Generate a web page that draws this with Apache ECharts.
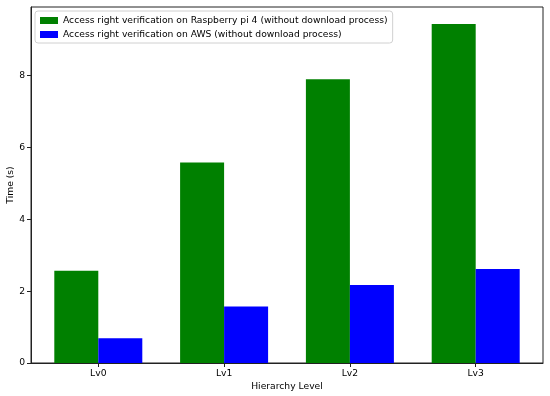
<!DOCTYPE html>
<html><head><meta charset="utf-8">
<script src="https://cdn.jsdelivr.net/npm/echarts@6/dist/echarts.min.js"></script>
<style>html,body{margin:0;padding:0;background:#fff}#c{width:550px;height:396px}</style>
</head><body><div id="c"></div>
<script>
const categories = ['Lv0', 'Lv1', 'Lv2', 'Lv3'];
const raspberry = [2.57, 5.58, 7.90, 9.44];
const aws = [0.69, 1.57, 2.17, 2.62];
const yTicks = [0, 2, 4, 6, 8];
const seriesNames = ['Access right verification on Raspberry pi 4 (without download process)', 'Access right verification on AWS (without download process)'];

const font = 'DejaVu Sans';
const fs = 9.2;
const chart = echarts.init(document.getElementById('c'), null, {renderer: 'canvas'});
const ymax = 9.44 * 1.05;
chart.setOption({
  animation: false,
  grid: {left: 31, right: 7, top: 7, bottom: 33, containLabel: false, outerBoundsMode: 'none', show: true, borderColor: '#222', borderWidth: 1},
  legend: {
    left: 35, top: 11, orient: 'vertical',
    itemWidth: 18, itemHeight: 7, itemGap: 5,
    padding: [5, 5, 4, 5],
    borderColor: '#d0d0d0', borderWidth: 1, borderRadius: 3,
    backgroundColor: 'rgba(255,255,255,0.8)',
    textStyle: {fontFamily: font, fontSize: fs, color: '#000'},
    icon: 'rect',
    data: seriesNames
  },
  xAxis: {
    type: 'value', min: -0.535, max: 3.535,
    name: 'Hierarchy Level', nameLocation: 'middle', nameGap: 19, nameMoveOverlap: false,
    nameTextStyle: {fontFamily: font, fontSize: fs, color: '#000'},
    splitLine: {show: false},
    axisLine: {show: true, onZero: false, lineStyle: {color: '#222'}},
    axisTick: {show: true, customValues: [0, 1, 2, 3], length: 4, lineStyle: {color: '#222'}},
    axisLabel: {customValues: [0, 1, 2, 3], formatter: v => categories[Math.round(v)], fontFamily: font, fontSize: fs, color: '#000', margin: 6}
  },
  yAxis: {
    type: 'value', min: 0, max: ymax,
    name: 'Time (s)', nameLocation: 'middle', nameGap: 16, nameRotate: 90, nameMoveOverlap: false,
    nameTextStyle: {fontFamily: font, fontSize: fs, color: '#000'},
    splitLine: {show: false},
    axisLine: {show: true, onZero: false, lineStyle: {color: '#222'}},
    axisTick: {show: true, customValues: yTicks, length: 4, lineStyle: {color: '#222'}},
    axisLabel: {customValues: yTicks, fontFamily: font, fontSize: fs, color: '#000', margin: 6}
  },
  series: [
    {name: seriesNames[0], type: 'bar', data: raspberry.map((v, i) => [i, v]), barWidth: 44, barGap: '0%', itemStyle: {color: '#008000'}},
    {name: seriesNames[1], type: 'bar', data: aws.map((v, i) => [i, v]), barWidth: 44, barGap: '0%', itemStyle: {color: '#0000ff'}}
  ]
});
</script></body></html>
